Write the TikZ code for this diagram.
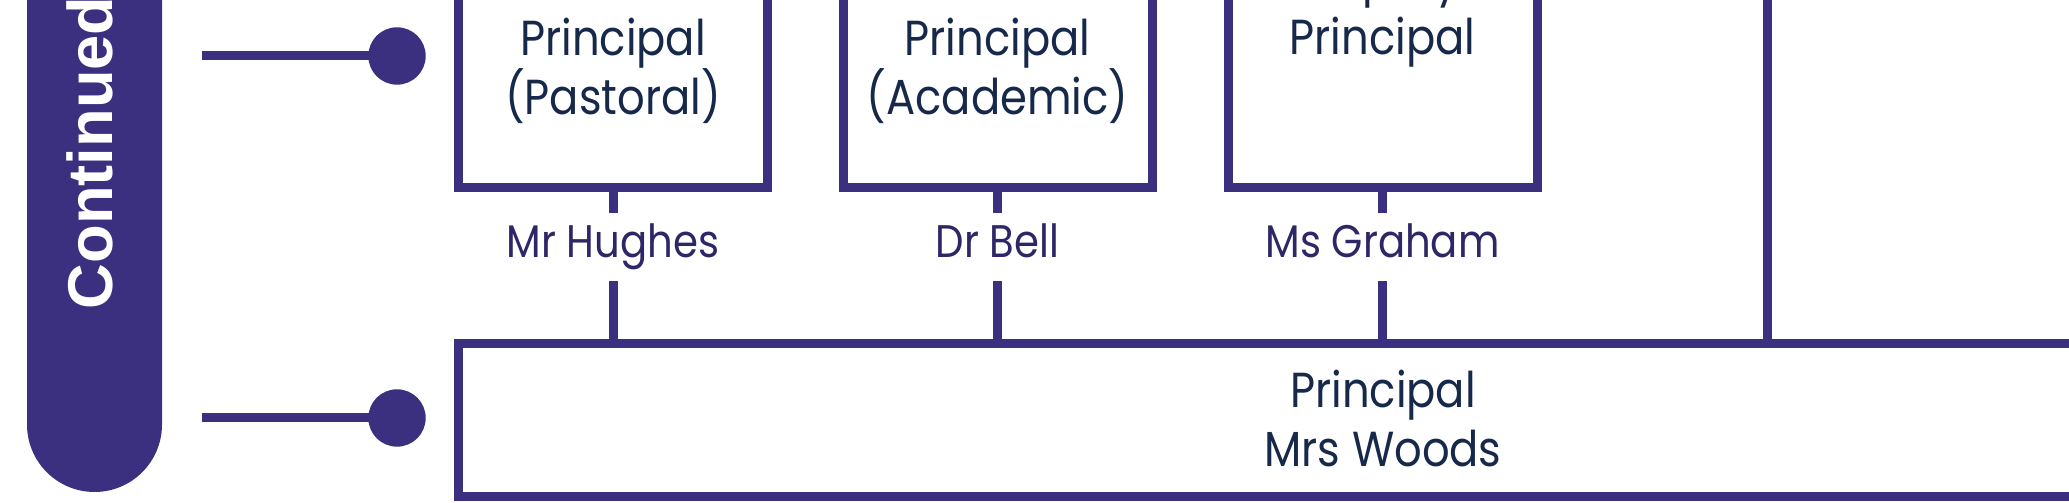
\documentclass[tikz,border=0pt]{standalone}
\usepackage{fontspec}
\setmainfont[FakeStretch=0.88]{Poppins}
\newfontfamily\tabfont{Liberation Sans}
\usetikzlibrary{positioning,calc}
\definecolor{orgPurple}{RGB}{59,47,127}
\definecolor{orgNavy}{RGB}{23,41,74}
\definecolor{orgName}{RGB}{46,39,103}

\begin{document}
\begin{tikzpicture}[
    role/.style={rectangle, draw=orgPurple, line width=0.09cm, inner sep=0pt,
                 minimum width=3.09cm, align=center, anchor=base,
                 font=\fontsize{14}{17}\selectfont, text=orgNavy},
    who/.style={inner xsep=0pt, inner ysep=0.11cm, text height=0.33cm,
                text depth=0.11cm, anchor=base, text=orgName,
                font=\fontsize{13}{16}\selectfont},
    dot/.style={circle, fill=orgPurple, inner sep=0pt, minimum size=0.574cm},
    link/.style={draw=orgPurple, line width=0.09cm}
  ]
  \clip (0,0) rectangle (20.69,5.03);
  % continued tab
  \fill[orgPurple] (0.27,6) -- (0.27,0.785) arc (180:360:0.675) -- (1.62,6) -- cycle;
  \node[rotate=90, anchor=base west, inner sep=0pt, text=white,
        font=\tabfont\bfseries\fontsize{18}{20}\selectfont] (tab) at (1.12,1.93) {Continued};
  % pointers
  \coordinate (in1) at (2.02,4.47);
  \coordinate (in2) at (2.02,0.85);
  \node[dot] (dot1) at (3.97,4.47) {};
  \node[dot] (dot2) at (3.97,0.85) {};
  \draw[link] (in1) -- (dot1.center);
  \draw[link] (in2) -- (dot2.center);
  % top row
  \node[role, text height=1.8cm, text depth=0.725cm] (pastoral) at (6.13,3.88) {Principal\\(Pastoral)};
  \node[role, text height=1.8cm, text depth=0.725cm] (academic) at (9.975,3.88) {Principal\\(Academic)};
  \node[role, text height=1.2cm, text depth=1.325cm] (deputy) at (13.825,4.48) {Deputy\\Principal};
  \node[who] (hughes) at (6.13,2.45) {Mr Hughes};
  \node[who] (bell) at (9.975,2.45) {Dr Bell};
  \node[who] (graham) at (13.825,2.45) {Ms Graham};
  % principal
  \node[role, minimum width=18.49cm, text height=1.23cm, text depth=0.30cm] (head) at (13.83,0.36) {Principal\\Mrs Woods};
  \coordinate (up) at (17.67,5.6);
  \draw[link] (up) -- (up |- head.north);
  \foreach \r/\n in {pastoral/hughes, academic/bell, deputy/graham}{
    \draw[link] (\r.south) -- (\n.north);
    \draw[link] (\n.south) -- (\n.south |- head.north);
  }
\end{tikzpicture}
\end{document}
